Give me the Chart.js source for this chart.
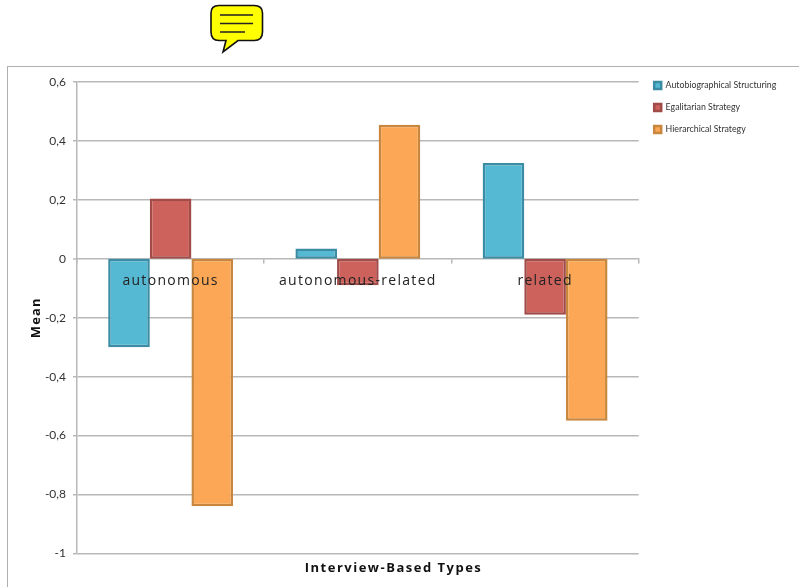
<!DOCTYPE html>
<html><head><meta charset="utf-8">
<script src="https://cdn.jsdelivr.net/npm/chart.js@4"></script>
<style>
html,body{margin:0;padding:0;background:#fff;width:799px;height:587px;overflow:hidden}
#frame{position:absolute;left:7px;top:66px;width:800px;height:530px;border-left:1px solid #b0b0b0;border-top:1px solid #b0b0b0}
#wrap{position:absolute;left:0;top:0;width:799px;height:587px}
#note{position:absolute;left:205px;top:0}
</style></head><body>
<div id="frame"></div>
<svg id="note" width="64" height="58" viewBox="0 0 64 58">
<path d="M14 5.5H49Q57.5 5.5 57.5 13V32Q57.5 40.5 49 40.5H33L18 52L21 40.5H14Q6 40.5 6 32V13Q6 5.5 14 5.5Z" fill="#ffff00" stroke="#111" stroke-width="1.6"/>
<path d="M15 15H48M15 23.5H48M15 32H40" stroke="#222" stroke-width="1.4" fill="none"/>
</svg>
<div id="wrap"><canvas id="c" width="799" height="587"></canvas></div>
<script>
const categories = ["autonomous", "autonomous-related", "related"];
const seriesNames = ["Autobiographical Structuring", "Egalitarian Strategy", "Hierarchical Strategy"];
const autobiographical = [-0.30, 0.035, 0.325];
const egalitarian = [0.205, -0.09, -0.19];
const hierarchical = [-0.84, 0.455, -0.55];
const fills = ["#56b9d3", "#cd625d", "#fba755"];
const edges = ["#3c8ca3", "#a04c49", "#c8873f"];
const xTitle = "Interview-Based Types";
const yTitle = "Mean";

function spaced(obj, name, px){
  const key = "_sp_" + name;
  if (obj[key]) return;
  obj[key] = true;
  const orig = obj[name];
  obj[name] = function(...a){
    const ctx = this.ctx;
    ctx.save(); ctx.letterSpacing = px;
    orig.apply(this, a);
    ctx.restore();
  };
}
const tweak = {
  id: "tweak",
  afterLayout(c){
    c.legend.top = 68;
    c.legend.left = 641;
    c.titleBlock.left = -6; c.titleBlock.right = 793;
    c.titleBlock.top += 3; c.titleBlock.bottom += 3;
  },
  beforeDraw(c){
    spaced(c.scales.x, "drawLabels", "1.3px");
    spaced(c.scales.y, "drawTitle", "1.2px");
    spaced(c.titleBlock, "draw", "1.5px");
  }
};
const series = [autobiographical, egalitarian, hierarchical];
new Chart(document.getElementById("c"), {
  type: "bar",
  data: {
    labels: categories,
    datasets: series.map((d, i) => ({
      label: seriesNames[i], data: d,
      backgroundColor: fills[i], borderColor: edges[i], borderWidth: 2.5, borderSkipped: false,
      barPercentage: 1, categoryPercentage: 0.667
    }))
  },
  options: {
    responsive: false, animation: false,
    layout: { padding: { left: 28, top: 82, right: 15, bottom: 14 } },
    plugins: {
      tooltip: { enabled: false },
      legend: {
        position: "right", align: "start",
        labels: { boxWidth: 7, boxHeight: 7, padding: 13.2, color: "#333",
                  font: { family: "Lato", size: 8.8 } }
      },
      title: {
        display: true, text: xTitle, position: "bottom", color: "#111",
        font: { family: "Open Sans", size: 13, weight: "bold" },
        padding: { top: 4, bottom: 0 }
      }
    },
    scales: {
      x: {
        position: { y: 0 },
        grid: { display: true, offset: true, drawOnChartArea: false, drawTicks: true, tickLength: 4, color: "#b8b8b8", lineWidth: 1.5 },
        border: { color: "#b8b8b8", width: 1.5 },
        ticks: { z: 1, color: "#222", padding: 10, maxRotation: 0, autoSkip: false, font: { family: "Open Sans", size: 14 } }
      },
      y: {
        min: -1, max: 0.6,
        afterFit(s){ s.width = 49; },
        title: { display: true, text: yTitle, color: "#111", padding: { top: 0, bottom: 0 }, font: { family: "Open Sans", size: 13, weight: "bold" } },
        grid: { color: "#b8b8b8", lineWidth: ctx => (ctx.tick && ctx.tick.value === 0 ? 0 : 1.5), tickWidth: 1.5, tickColor: "#b8b8b8", tickLength: 4 },
        border: { color: "#b8b8b8", width: 1.5 },
        ticks: { stepSize: 0.2, color: "#333", padding: 7, font: { family: "Lato", size: 12 },
                 callback: v => String(Math.round(v * 10) / 10).replace(".", ",") }
      }
    }
  },
  plugins: [tweak]
});
</script>
</body></html>
